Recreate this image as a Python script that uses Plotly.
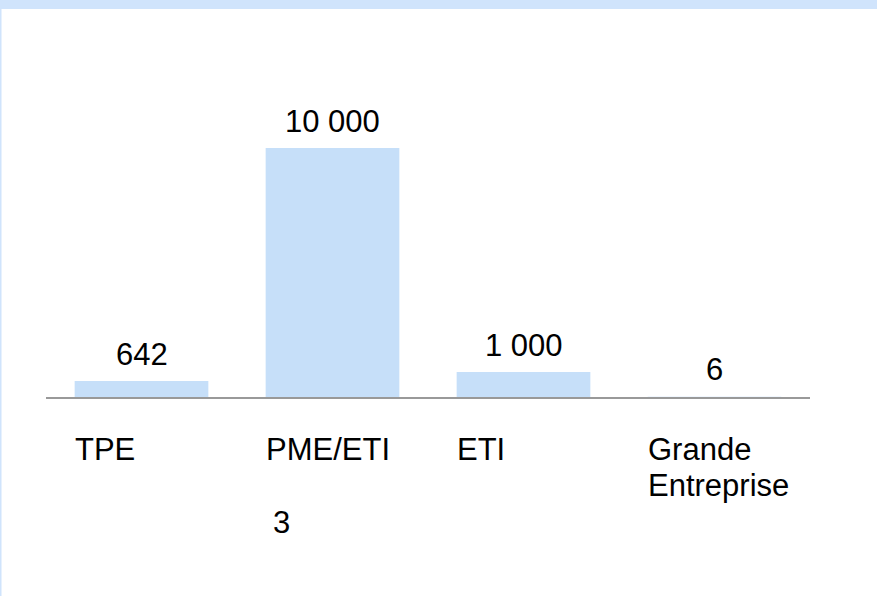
import plotly.graph_objects as go

categories = ["TPE", "PME/ETI", "ETI", "Grande Entreprise"]
values = [642, 10000, 1000, 6]
tick_lines = [["TPE"], ["PME/ETI", "", "3"], ["ETI"], ["Grande", "Entreprise"]]

BAR = "#c6dff9"
BORDER = "#d0e4fc"
FONT = "Liberation Sans, Arial, sans-serif"

W, H = 877, 596
L, R, T, B = 46, 67, 148, 199
pw, ph = W - L - R, H - T - B

fig = go.Figure(go.Bar(
    x=categories, y=values, marker_color=BAR, marker_line_width=0,
    width=0.7, hoverinfo="skip"))

ann = []
for i, v in enumerate(values):
    ann.append(dict(x=i, y=v, xref="x", yref="y", text=f"{v:,}".replace(",", " "),
                    showarrow=False, yanchor="middle", yshift=27,
                    font=dict(size=31, color="black", family=FONT)))
for i, lines in enumerate(tick_lines):
    for k, line in enumerate(lines):
        if not line:
            continue
        ann.append(dict(x=i - 0.35, y=0, xref="x", yref="y", text=line,
                        showarrow=False, xanchor="left", yanchor="middle",
                        xshift=(5 if line == "3" else -2), yshift=-52 - 36.5 * k,
                        font=dict(size=31, color="black", family=FONT)))

def px_x(p):
    return (p - L) / pw

def px_y(p):
    return (H - B - p) / ph

shapes = [
    dict(type="rect", xref="paper", yref="paper", x0=px_x(0), x1=px_x(W),
         y0=px_y(9), y1=px_y(0), fillcolor=BORDER, line_width=0, layer="above"),
    dict(type="rect", xref="paper", yref="paper", x0=px_x(0), x1=px_x(1.5),
         y0=px_y(H), y1=px_y(9), fillcolor=BORDER, line_width=0, layer="above"),
]

fig.update_layout(
    width=W, height=H, margin=dict(l=L, r=R, t=T, b=B, pad=0),
    paper_bgcolor="white", plot_bgcolor="white", showlegend=False,
    font=dict(family=FONT, size=31, color="black"),
    xaxis=dict(range=[-0.5, 3.5], showticklabels=False, ticks="", showgrid=False,
               showline=True, linecolor="#999999", linewidth=2, zeroline=False),
    yaxis=dict(range=[0, 10000], visible=False, showgrid=False, zeroline=False),
    annotations=ann, shapes=shapes,
)

fig.write_html("out.html", config={"displayModeBar": False, "staticPlot": True},
               post_script="document.body.style.margin='0';document.body.style.overflow='hidden';")
